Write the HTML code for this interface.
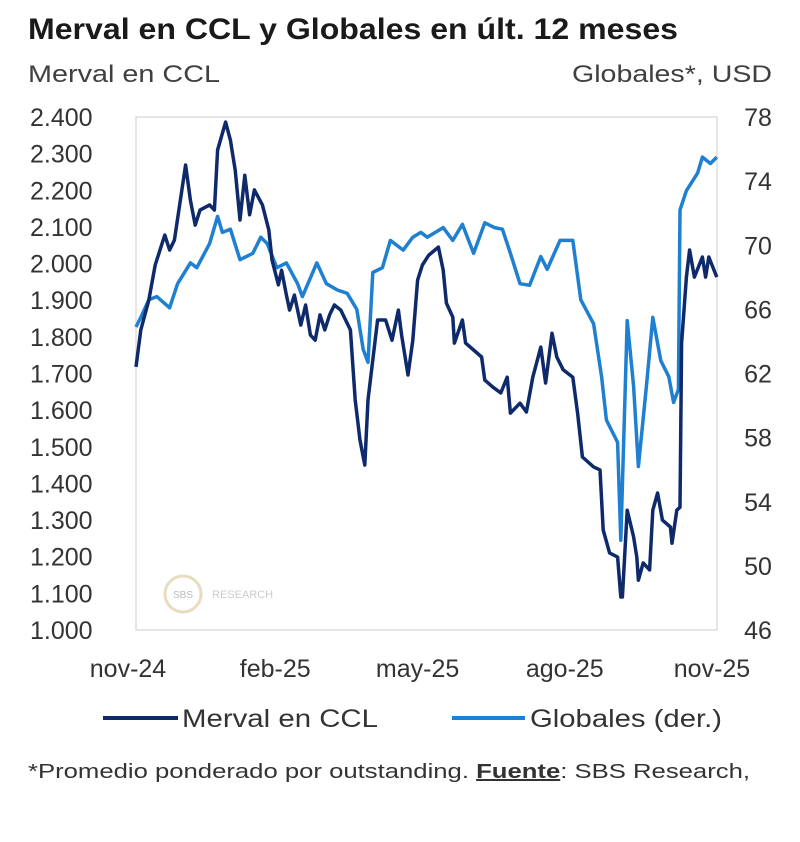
<!DOCTYPE html>
<html><head><meta charset="utf-8"><style>
body{margin:0;background:#fff;width:800px;height:837px;overflow:hidden;font-family:"Liberation Sans",Arial,sans-serif;}
svg text{font-family:"Liberation Sans",Arial,sans-serif;}
</style></head><body>
<svg id="chart" width="800" height="837" xmlns="http://www.w3.org/2000/svg">
<text x="28" y="39" font-size="30" font-weight="bold" fill="#1a1a1a" textLength="650" lengthAdjust="spacingAndGlyphs">Merval en CCL y Globales en últ. 12 meses</text>
<text x="28" y="82" font-size="24" fill="#404040" textLength="192" lengthAdjust="spacingAndGlyphs">Merval en CCL</text>
<text x="572" y="82" font-size="24" fill="#404040" textLength="200" lengthAdjust="spacingAndGlyphs">Globales*, USD</text>
<rect x="136" y="117" width="581" height="513" fill="none" stroke="#ddd" stroke-width="1.5"/>
<g>
<circle cx="183" cy="594" r="18" fill="none" stroke="#e8dcc0" stroke-width="3"/>
<text x="183" y="598" font-size="10" fill="#bbb" text-anchor="middle">SBS</text>
<text x="212" y="598" font-size="11" fill="#ccc">RESEARCH</text>
</g>
<g id="axes"></g>
<g id="series"></g>
<g>
<line x1="103" y1="718" x2="178" y2="718" stroke="#0f2a6b" stroke-width="4"/>
<text x="182" y="727" font-size="25" fill="#333" textLength="196" lengthAdjust="spacingAndGlyphs">Merval en CCL</text>
<line x1="452" y1="718" x2="525" y2="718" stroke="#1f7fd0" stroke-width="4"/>
<text x="530" y="727" font-size="25" fill="#333" textLength="192" lengthAdjust="spacingAndGlyphs">Globales (der.)</text>
</g>
<text x="28" y="778" font-size="20" fill="#333" textLength="722" lengthAdjust="spacingAndGlyphs">*Promedio ponderado por outstanding. <tspan font-weight="bold" text-decoration="underline">Fuente</tspan>: SBS Research,</text>
</svg>
<script>
const leftTicks=[1000,1100,1200,1300,1400,1500,1600,1700,1800,1900,2000,2100,2200,2300,2400];
const rightTicks=[46,50,54,58,62,66,70,74,78];
const xLabels=["nov-24","feb-25","may-25","ago-25","nov-25"];
const xLabelDays=[0,92,181,273,365];
const mervalDays=[5,8,13,17,23,26,29,36,39,42,45,51,54,56,61,64,67,70,73,76,79,84,88,90,94,96,99,101,104,108,111,114,117,120,123,126,129,133,136,139,142,145,148,150,153,156,161,165,169,171,175,178,181,184,188,194,197,199,203,204,209,211,216,221,223,228,233,237,239,245,249,253,258,261,265,268,272,278,281,284,291,295,297,301,306,308,309,312,316,318,319,322,326,328,331,334,339,340,343,345,346,349,351,354,359,361,363,368];
const mervalVals=[1718,1819,1900,1996,2078,2037,2064,2269,2173,2105,2146,2160,2146,2310,2386,2337,2255,2119,2241,2133,2201,2160,2092,2010,1942,1982,1914,1873,1914,1832,1887,1805,1791,1860,1819,1860,1887,1873,1846,1819,1628,1518,1450,1628,1737,1846,1846,1791,1873,1805,1696,1791,1955,1996,2023,2045,1982,1892,1854,1783,1846,1783,1764,1745,1682,1663,1647,1690,1592,1619,1595,1690,1772,1674,1810,1745,1710,1690,1592,1472,1445,1437,1273,1210,1199,1090,1090,1327,1254,1199,1136,1183,1164,1327,1374,1300,1281,1237,1327,1335,1783,1963,2037,1963,2018,1963,2018,1963];
const globDays=[5,8,13,18,26,31,39,43,51,56,59,64,70,78,83,87,93,99,106,109,118,124,131,137,143,147,150,153,159,164,172,178,183,187,197,203,209,216,223,229,234,239,245,251,258,262,270,278,283,291,296,299,306,308,312,316,319,324,328,333,338,341,344,345,349,356,359,364,368];
const globVals=[64.9,65.5,66.6,66.8,66.1,67.6,68.9,68.6,70.1,71.8,70.8,71.0,69.1,69.5,70.5,70.1,68.6,68.9,67.6,66.8,68.9,67.6,67.2,67.0,66.0,63.5,62.7,68.3,68.6,70.3,69.7,70.5,70.8,70.5,71.1,70.3,71.3,69.5,71.4,71.1,71.0,69.5,67.6,67.5,69.3,68.5,70.3,70.3,66.6,65.1,61.8,59.1,57.7,51.6,65.3,61.2,56.2,61.2,65.5,62.8,61.8,60.2,61.0,72.2,73.4,74.5,75.5,75.1,75.5];
const X=d=>128+d*1.6;
const YL=v=>630-(v-1000)/1400*513;
const YR=v=>630-(v-46)/32*513;
const NS="http://www.w3.org/2000/svg";
const axes=document.getElementById('axes'), series=document.getElementById('series');
function txt(x,y,s,anchor){const t=document.createElementNS(NS,'text');t.setAttribute('x',x);t.setAttribute('y',y);t.setAttribute('font-size','25');t.setAttribute('fill','#333');t.setAttribute('text-anchor',anchor);t.textContent=s;return t;}
leftTicks.forEach(v=>{const t=txt(30,YL(v)+9,v.toLocaleString('de-DE').replace(',','.'),'start');


axes.appendChild(t);});
rightTicks.forEach(v=>{const t=txt(758,YR(v)+9,String(v),'middle');


axes.appendChild(t);});
xLabels.forEach((s,i)=>{const t=txt(X(xLabelDays[i]),677,s,'middle');


axes.appendChild(t);});
function line(days,vals,yf,color){const p=document.createElementNS(NS,'polyline');
p.setAttribute('points',days.map((d,i)=>X(d).toFixed(1)+','+yf(vals[i]).toFixed(1)).join(' '));
p.setAttribute('fill','none');p.setAttribute('stroke',color);p.setAttribute('stroke-width','3.5');p.setAttribute('stroke-linejoin','round');return p;}
const g=line(globDays,globVals,YR,'#1f7fd0');


series.appendChild(g);
const m=line(mervalDays,mervalVals,YL,'#0f2a6b');


series.appendChild(m);
</script>
</body></html>
